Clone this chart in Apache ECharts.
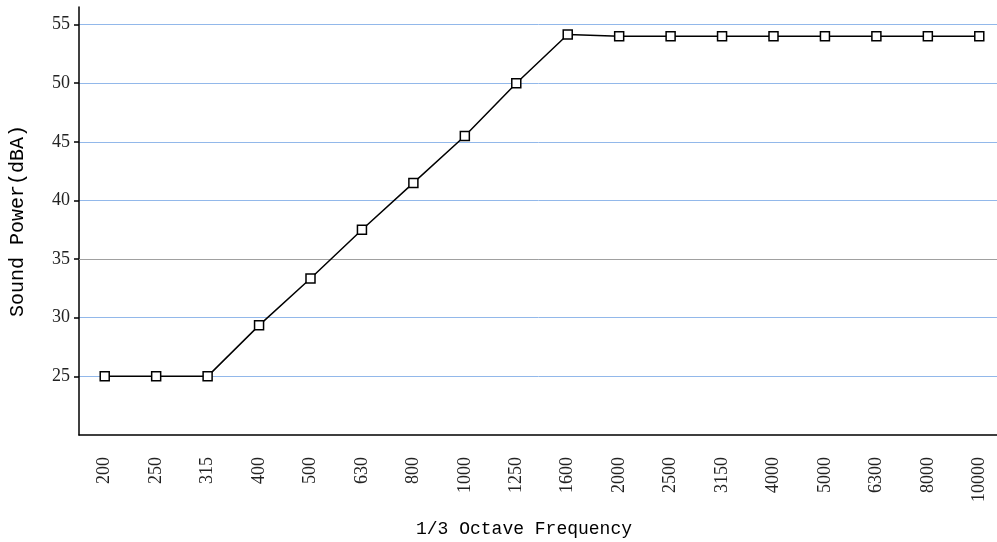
<!DOCTYPE html>
<html>
<head>
<meta charset="utf-8">
<script src="https://cdn.jsdelivr.net/npm/echarts@6/dist/echarts.min.js"></script>
<style>
  html, body { margin: 0; padding: 0; background: #fff; }
  #chart { width: 997px; height: 542px; }
</style>
</head>
<body>
<div id="chart"></div>
<script>
// 1/3オクターブ帯域
const frequencies = ['200', '250', '315', '400', '500', '630', '800', '1000', '1250', '1600',
  '2000', '2500', '3150', '4000', '5000', '6300', '8000', '10000']
// 音響パワー (dBA)
const soundPower = [25, 25, 25, 29.35, 33.35, 37.5, 41.5, 45.5, 50, 54.15,
  54, 54, 54, 54, 54, 54, 54, 54]
// 灰色の横線
const grayLines = [35]

const myChart = echarts.init(document.getElementById('chart'))

const option = {
  animation: false,
  grid: {
    left: 79,
    right: -8,
    top: 7,
    bottom: 107,
    outerBoundsMode: 'none',
    containLabel: false
  },
  xAxis: {
    type: 'category',
    data: frequencies,
    name: '1/3 Octave Frequency',
    nameLocation: 'middle',
    nameGap: 85,
    nameTextStyle: {
      fontFamily: 'Liberation Mono',
      fontSize: 18,
      color: '#000',
      padding: [0, 36, 0, 0]
    },
    axisLine: { lineStyle: { color: '#000', width: 1.5 } },
    axisTick: { alignWithLabel: true, length: 7, lineStyle: { color: '#000', width: 1.5 } },
    axisLabel: {
      rotate: 90,
      margin: 22,
      fontFamily: 'Liberation Serif',
      fontSize: 18,
      color: '#222'
    },
    splitLine: { show: false }
  },
  yAxis: {
    type: 'value',
    min: 20,
    max: 56.5,
    interval: 5,
    name: 'Sound Power(dBA)',
    nameLocation: 'middle',
    nameGap: 51,
    nameTextStyle: {
      fontFamily: 'Liberation Mono',
      fontSize: 20,
      color: '#000'
    },
    axisLine: { show: true, lineStyle: { color: '#000', width: 1.5 } },
    axisTick: { show: true, length: 5, lineStyle: { color: '#000', width: 1.5 } },
    axisLabel: {
      showMinLabel: false,
      showMaxLabel: false,
      margin: 9,
      fontFamily: 'Liberation Serif',
      fontSize: 18,
      color: '#222'
    },
    splitLine: {
      show: true,
      showMinLine: false,
      showMaxLine: false,
      lineStyle: { color: '#92b8ea', width: 1 }
    }
  },
  series: [
    {
      type: 'line',
      data: soundPower,
      symbol: 'rect',
      symbolSize: 9,
      z: 3,
      lineStyle: { color: '#000', width: 1.5 },
      itemStyle: { color: '#fff', borderColor: '#000', borderWidth: 1.5 },
      markLine: {
        silent: true,
        symbol: 'none',
        label: { show: false },
        z: 1,
        lineStyle: { color: '#a0a0a0', type: 'solid', width: 1 },
        data: grayLines.map(v => ({ yAxis: v }))
      }
    }
  ]
}

myChart.setOption(option)
</script>
</body>
</html>
